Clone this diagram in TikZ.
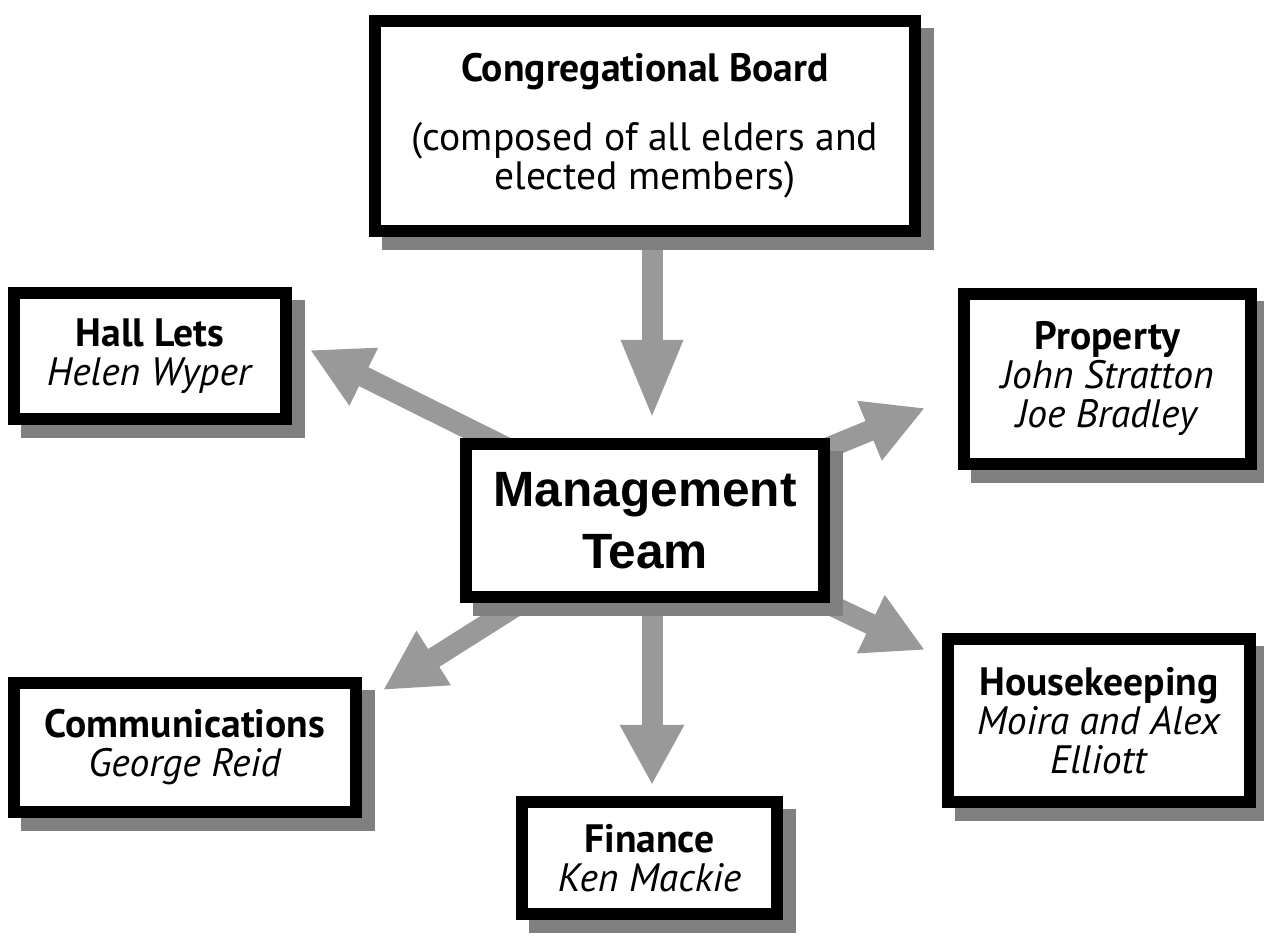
\documentclass[tikz,border=0pt]{standalone}
\usepackage{fontspec}
\setmainfont{PT Sans}
\newfontfamily\mtfont{Liberation Sans}
\usetikzlibrary{arrows.meta}
\definecolor{shgray}{HTML}{808080}
\definecolor{argray}{HTML}{999999}
\pgfdeclarelayer{background}
\pgfsetlayers{background,main}
\tikzset{
  box/.style={draw=black, line width=6pt, fill=white, inner sep=0pt, align=center,
    font=\fontsize{19.8}{19.5}\selectfont,
    preaction={draw=shgray, fill=shgray, line width=6pt, transform canvas={shift={(6.5pt,-6.5pt)}}}},
  conn/.style={draw=argray, line width=10.5pt,
    -{Triangle[length=30pt, width=30pt]}},
  bigconn/.style={draw=argray, line width=10.5pt,
    -{Triangle[length=40pt, width=28pt]}},
}
\begin{document}
\begin{tikzpicture}[x=0.5pt, y=-0.5pt]
\useasboundingbox (0,0) rectangle (1264,940);
\node[box, minimum width=270pt, minimum height=105pt] (cb) at (645,126)
  {\textbf{Congregational Board}\\[15pt](composed of all elders and\\elected members)};
\node[box, minimum width=136pt, minimum height=63pt] (hall) at (150,356)
  {\textbf{Hall Lets}\\\textit{Helen Wyper}};
\node[box, minimum width=143.5pt, minimum height=85pt] (prop) at (1107.5,379)
  {\textbf{Property}\\\textit{John Stratton}\\\textit{Joe Bradley}};
\node[box, minimum width=179pt, minimum height=76.5pt,
  font=\mtfont\bfseries\fontsize{24.8}{31}\selectfont] (mt) at (645,520.5)
  {Management\\Team};
\node[box, minimum width=171pt, minimum height=64.5pt] (comm) at (185,747.5)
  {\textbf{Communications}\\\textit{George Reid}};
\node[box, minimum width=151pt, minimum height=81.5pt] (house) at (1099,720.5)
  {\textbf{Housekeeping}\\\textit{Moira and Alex}\\\textit{Elliott}};
\node[box, minimum width=127.5pt, minimum height=56pt] (fin) at (649.5,858)
  {\textbf{Finance}\\\textit{Ken Mackie}};
\coordinate (src) at (652,520);
\coordinate (tipCB) at (652,420);
\coordinate (tipH) at (310,350);
\coordinate (tipP) at (925,408);
\coordinate (tipC) at (383,690);
\coordinate (tipHK) at (925,650);
\coordinate (tipF) at (652,785);
\begin{pgfonlayer}{background}
\draw[bigconn] (cb.south -| tipCB) -- (tipCB);
\draw[conn] (src) -- (tipH);
\draw[conn] (src) -- (tipP);
\draw[conn] (src) -- (tipC);
\draw[conn] (src) -- (tipHK);
\draw[conn] (src) -- (tipF);
\end{pgfonlayer}
\end{tikzpicture}
\end{document}
